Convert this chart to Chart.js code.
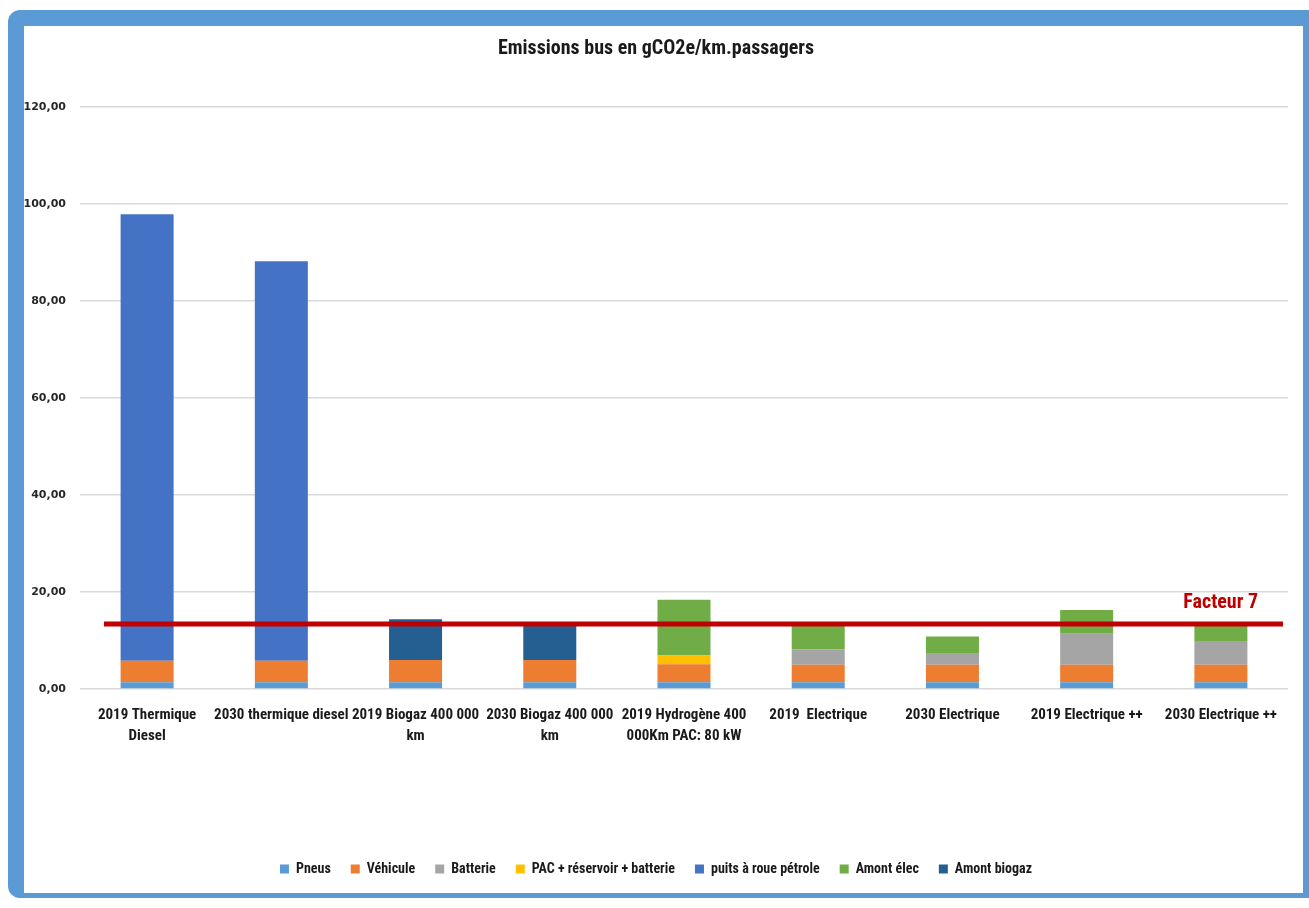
<!DOCTYPE html>
<html lang="fr">
<head>
    <meta charset="UTF-8">
    <title>Emissions bus</title>
    <script src="https://cdn.jsdelivr.net/npm/chart.js@4.4.0/dist/chart.umd.min.js"></script>
    <style>
        * {
            margin: 0;
            padding: 0;
            box-sizing: border-box;
        }

        body {
            background: #fff;
            width: 1309px;
            height: 908px;
            overflow: hidden;
            position: relative;
        }

        /* blue rounded frame around the chart */
        .frame {
            position: absolute;
            left: 8px;
            top: 10px;
            width: 1312px;
            height: 888px;
            background: #5b9bd5;
            border-radius: 12px;
        }

        .panel {
            position: absolute;
            left: 24px;
            top: 26px;
            width: 1279px;
            height: 867px;
            background: #fff;
        }

        canvas {
            display: block;
        }
    </style>
</head>
<body>
    <div class="frame"></div>
    <div class="panel">
        <canvas id="busChart" width="1279" height="867"></canvas>
    </div>

    <script>
        const categories = [
            ['2019 Thermique', 'Diesel'],
            '2030 thermique diesel',
            ['2019 Biogaz 400 000', 'km'],
            ['2030 Biogaz 400 000', 'km'],
            ['2019 Hydrogène 400', '000Km PAC: 80 kW'],
            '2019  Electrique',
            '2030 Electrique',
            '2019 Electrique ++',
            '2030 Electrique ++'
        ];

        // gCO2e/km.passager, one value per category
        const pneus         = [1.4, 1.4, 1.4, 1.4, 1.4, 1.4, 1.4, 1.4, 1.4];
        const vehicule      = [4.4, 4.4, 4.6, 4.6, 3.7, 3.6, 3.6, 3.6, 3.6];
        const batterie      = [0, 0, 0, 0, 0, 3.2, 2.4, 6.4, 4.9];
        const pac           = [0, 0, 0, 0, 1.8, 0, 0, 0, 0];
        const puitsPetrole  = [92.1, 82.4, 0, 0, 0, 0, 0, 0, 0];
        const amontElec     = [0, 0, 0, 0, 11.5, 4.8, 3.4, 4.9, 3.1];
        const amontBiogaz   = [0, 0, 8.4, 7.0, 0, 0, 0, 0, 0];

        const yTicks = [0, 20, 40, 60, 80, 100, 120];
        const facteurLevel = 13.4;
        const facteurLabel = 'Facteur 7';

        const narrow = '"Liberation Sans Narrow", "Roboto Condensed", "Open Sans", sans-serif';

        // red "Facteur 7" reference line across the plot
        const facteurLine = {
            id: 'facteurLine',
            afterDatasetsDraw(chart) {
                const ctx = chart.ctx;
                const area = chart.chartArea;
                const y = chart.scales.y.getPixelForValue(facteurLevel);
                ctx.save();
                ctx.strokeStyle = '#c00000';
                ctx.lineWidth = 5;
                ctx.beginPath();
                ctx.moveTo(area.left + 24, y);
                ctx.lineTo(area.right - 5, y);
                ctx.stroke();
                ctx.fillStyle = '#c00000';
                ctx.font = 'bold 20px ' + narrow;
                ctx.textAlign = 'right';
                ctx.textBaseline = 'middle';
                ctx.fillText(facteurLabel, area.right - 30, y - 21);
                ctx.restore();
            }
        };

        const ctx = document.getElementById('busChart').getContext('2d');

        new Chart(ctx, {
            type: 'bar',
            data: {
                labels: categories,
                datasets: [
                    { label: 'Pneus', data: pneus, backgroundColor: '#5b9bd5' },
                    { label: 'Véhicule', data: vehicule, backgroundColor: '#ed7d31' },
                    { label: 'Batterie', data: batterie, backgroundColor: '#a5a5a5' },
                    { label: 'PAC + réservoir + batterie', data: pac, backgroundColor: '#ffc000' },
                    { label: 'puits à roue pétrole', data: puitsPetrole, backgroundColor: '#4472c4' },
                    { label: 'Amont élec', data: amontElec, backgroundColor: '#70ad47' },
                    { label: 'Amont biogaz', data: amontBiogaz, backgroundColor: '#255e91' }
                ]
            },
            options: {
                responsive: false,
                animation: false,
                categoryPercentage: 1,
                barPercentage: 0.395,
                layout: {
                    padding: { left: 0, right: 15, top: 0, bottom: 7 }
                },
                plugins: {
                    title: {
                        display: true,
                        text: 'Emissions bus en gCO2e/km.passagers',
                        color: '#1a1a1a',
                        font: { family: narrow, size: 20, weight: 'bold' },
                        padding: { top: 11, bottom: 46 }
                    },
                    legend: {
                        position: 'bottom',
                        labels: {
                            color: '#1a1a1a',
                            boxWidth: 9,
                            boxHeight: 9,
                            padding: 20,
                            font: { family: narrow, size: 14, weight: 'bold' }
                        }
                    },
                    tooltip: { enabled: false }
                },
                scales: {
                    x: {
                        stacked: true,
                        grid: { display: false },
                        border: { display: false },
                        ticks: {
                            autoSkip: false,
                            maxRotation: 0,
                            padding: 7,
                            color: '#1a1a1a',
                            font: { family: narrow, size: 15, weight: 'bold', lineHeight: 1.45 }
                        },
                        afterFit(scale) {
                            scale.height = 153;
                        }
                    },
                    y: {
                        stacked: true,
                        min: 0,
                        max: 120,
                        afterBuildTicks(scale) {
                            scale.ticks = yTicks.map(v => ({ value: v }));
                        },
                        afterFit(scale) {
                            scale.width = 56;
                        },
                        grid: {
                            color: '#d9d9d9',
                            lineWidth: 1.5,
                            drawTicks: false
                        },
                        border: { display: false },
                        ticks: {
                            padding: 14,
                            color: '#262626',
                            font: { family: '"DejaVu Sans", Verdana, sans-serif', size: 11, weight: 'bold' },
                            callback: v => v.toFixed(2).replace('.', ',')
                        }
                    }
                }
            },
            plugins: [facteurLine]
        });
    </script>
</body>
</html>
